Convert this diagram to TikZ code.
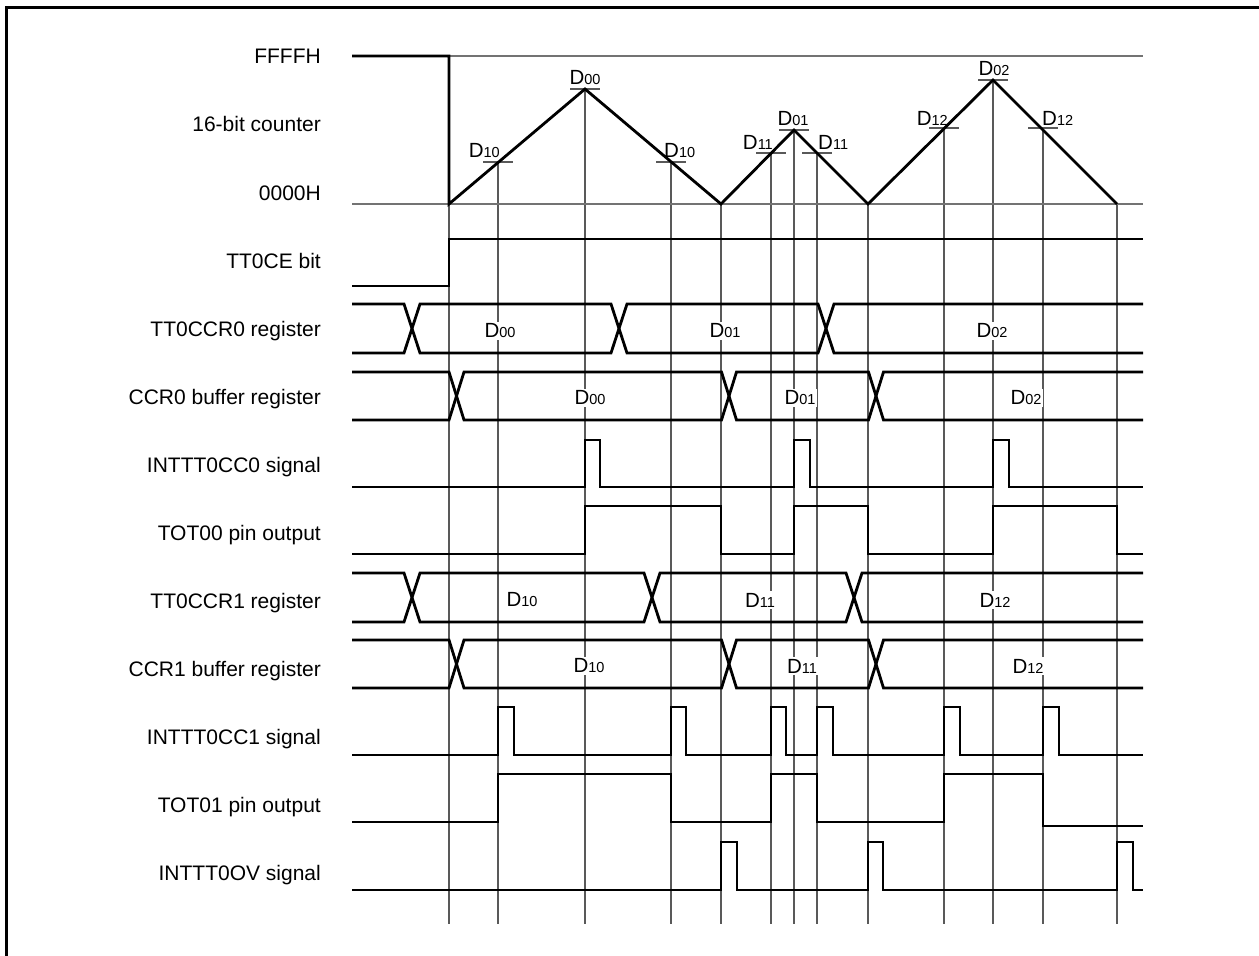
\documentclass[tikz,border=0pt]{standalone}
\usepackage{fontspec}
\setmainfont{Liberation Sans}
\newcommand\Dv[1]{D{\fontsize{14.5}{16}\selectfont #1}}
\newcommand\busrow[6]{% top, bottom, c1, c2, c3, hw
  \draw[wave] (352,#1) -- ({#3-#6},#1) -- ({#3+#6},#2) -- ({#4-#6},#2) -- ({#4+#6},#1) -- ({#5-#6},#1) -- ({#5+#6},#2) -- (1143,#2);
  \draw[wave] (352,#2) -- ({#3-#6},#2) -- ({#3+#6},#1) -- ({#4-#6},#1) -- ({#4+#6},#2) -- ({#5-#6},#2) -- ({#5+#6},#1) -- (1143,#1);
}
\begin{document}
\begin{tikzpicture}[x=1pt,y=-1pt,
  lbl/.style={anchor=base east,inner sep=0pt,font=\fontsize{21}{25}\selectfont},
  dv/.style={fill=white,inner sep=1.5pt,font=\fontsize{20.5}{24}\selectfont},
  cv/.style={inner sep=0pt,font=\fontsize{20.5}{24}\selectfont},
  wave/.style={line width=2.8pt,line join=miter,line cap=butt},
  guide/.style={line width=1.2pt,black!65},
  level/.style={line width=1.3pt,black!55},
  frame/.style={line width=3pt}]
\useasboundingbox (0,0) rectangle (1259,956);
% frame
\draw[frame] (6.5,956) -- (6.5,7.5) -- (1259,7.5);
% row labels
\node[lbl] (lffff) at (321,63) {FFFFH};
\node[lbl] (lcnt) at (321,131) {16-bit counter};
\node[lbl] (l0000) at (321,200) {0000H};
\node[lbl] (lce) at (321,268) {TT0CE bit};
\node[lbl] (lccr0) at (321,336) {TT0CCR0 register};
\node[lbl] (lbuf0) at (321,404) {CCR0 buffer register};
\node[lbl] (lcc0) at (321,472) {INTTT0CC0 signal};
\node[lbl] (ltot0) at (321,540) {TOT00 pin output};
\node[lbl] (lccr1) at (321,608) {TT0CCR1 register};
\node[lbl] (lbuf1) at (321,676) {CCR1 buffer register};
\node[lbl] (lcc1) at (321,744) {INTTT0CC1 signal};
\node[lbl] (ltot1) at (321,812) {TOT01 pin output};
\node[lbl] (lov) at (321,880) {INTTT0OV signal};
% guides
\foreach \x/\y in {449/204, 498/162, 585/89, 671/162, 721/204, 771/153, 794/130, 817/153, 868/204, 944/128, 993/80, 1043/128, 1117/204}
  \draw[guide] (\x,\y) -- (\x,924);
% compare markers
\foreach \x/\y in {498/162, 585/89, 671/162, 771/153, 794/130, 817/153, 944/128, 993/80, 1043/128}
  \draw[guide] ({\x-15},\y) -- ({\x+15},\y);
% counter levels
\draw[level] (449,56) -- (1143,56);
\draw[level] (352,204) -- (1143,204);
% counter labels
\node[cv,anchor=base east] (c1) at (500,157) {\Dv{10}};
\node[cv,anchor=base] (c2) at (585,84) {\Dv{00}};
\node[cv,anchor=base west] (c3) at (664,157) {\Dv{10}};
\node[cv,anchor=base east] (c4) at (773,149) {\Dv{11}};
\node[cv,anchor=base] (c5) at (793,125) {\Dv{01}};
\node[cv,anchor=base west] (c6) at (818,149) {\Dv{11}};
\node[cv,anchor=base east] (c7) at (948,125) {\Dv{12}};
\node[cv,anchor=base] (c8) at (994,75) {\Dv{02}};
\node[cv,anchor=base west] (c9) at (1042,125) {\Dv{12}};
% bus data labels
\node[dv] (r0a) at (500,331) {\Dv{00}};
\node[dv] (r0b) at (725,331) {\Dv{01}};
\node[dv] (r0c) at (992,331) {\Dv{02}};
\node[dv] (b0a) at (590,398) {\Dv{00}};
\node[dv] (b0b) at (800,398) {\Dv{01}};
\node[dv] (b0c) at (1026,398) {\Dv{02}};
\node[dv] (r1a) at (522,600) {\Dv{10}};
\node[dv] (r1b) at (760,600) {\Dv{11}};
\node[dv] (r1c) at (995,600) {\Dv{12}};
\node[dv] (b1a) at (589,666) {\Dv{10}};
\node[dv] (b1b) at (802,666) {\Dv{11}};
\node[dv] (b1c) at (1028,666) {\Dv{12}};
% counter waveform
\draw[wave] (352,56) -- (449,56) -- (449,204) -- (585,89) -- (721,204) -- (794,130) -- (868,204) -- (993,80) -- (1117,204);
% TT0CE
\draw[wave] (352,286) -- (449,286) -- (449,239) -- (1143,239);
% buses
\busrow{304}{353}{412}{619}{826}{8}
\busrow{372}{420}{456.5}{729}{876}{7.5}
\busrow{573}{622}{412}{652}{854}{8}
\busrow{640}{688}{456.5}{729}{876}{7.5}
% INTTT0CC0
\draw[wave] (352,487) -- (585,487) -- (585,440) -- (600,440) -- (600,487) -- (794,487) -- (794,440) -- (810,440) -- (810,487) -- (993,487) -- (993,440) -- (1009,440) -- (1009,487) -- (1143,487);
% TOT00
\draw[wave] (352,554) -- (585,554) -- (585,506) -- (721,506) -- (721,554) -- (794,554) -- (794,506) -- (868,506) -- (868,554) -- (993,554) -- (993,506) -- (1117,506) -- (1117,554) -- (1143,554);
% INTTT0CC1
\draw[wave] (352,755) -- (498,755) -- (498,707) -- (514,707) -- (514,755) -- (671,755) -- (671,707) -- (686,707) -- (686,755) -- (771,755) -- (771,707) -- (786,707) -- (786,755) -- (817,755) -- (817,707) -- (833,707) -- (833,755) -- (944,755) -- (944,707) -- (960,707) -- (960,755) -- (1043,755) -- (1043,707) -- (1059,707) -- (1059,755) -- (1143,755);
% TOT01
\draw[wave] (352,822) -- (498,822) -- (498,774) -- (671,774) -- (671,822) -- (771,822) -- (771,774) -- (817,774) -- (817,822) -- (944,822) -- (944,774) -- (1043,774) -- (1043,826) -- (1143,826);
% INTTT0OV
\draw[wave] (352,890) -- (721,890) -- (721,842) -- (737,842) -- (737,890) -- (868,890) -- (868,842) -- (883,842) -- (883,890) -- (1117,890) -- (1117,842) -- (1133,842) -- (1133,890) -- (1143,890);
\end{tikzpicture}
\end{document}
